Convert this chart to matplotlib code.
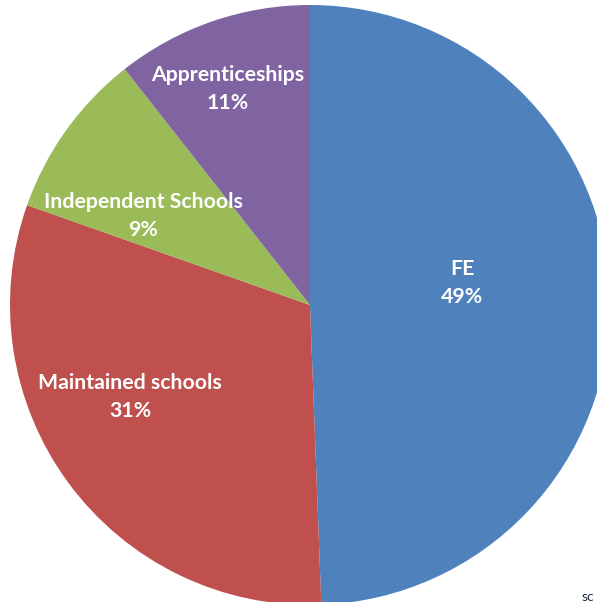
import matplotlib
matplotlib.use('Agg')
from matplotlib import pyplot as plt

# Data

sectors = ['FE', 'Maintained schools', 'Independent Schools', 'Apprenticeships']
shares = [49.4, 31.0, 9.0, 10.6]
colours = ['#4F81BD', '#C0504D', '#9BBB59', '#8064A2']

# label centres in pixels (x from left, y from top) of the reference picture

label_pos = [(462, 283), (130, 397), (143, 216), (228, 89)]

W, H = 597, 602
cx, cy = 310, 305   # pie centre in pixels

fig = plt.figure(figsize = (W/100, H/100), dpi = 100)
ax = fig.add_axes([0, 0, 1, 1])

ax.pie(shares, colors = colours, startangle = 90, counterclock = False,
       radius = 300, center = (0, 0), wedgeprops = dict(linewidth = 0))

for i in range(len(sectors)):
    px, py = label_pos[i]
    ax.text(px - cx, cy - py, sectors[i] + '\n' + '%.0f%%' % shares[i],
            ha = 'center', va = 'center', color = 'white', fontsize = 15.3,
            fontweight = 'bold', family = 'Lato', linespacing = 1.45)

ax.text(582 - cx, cy - 597, 'sc', ha = 'left', va = 'center', fontsize = 10,
        color = '#1f2a44', family = 'Lato')

ax.set_xlim(-cx, W - cx)
ax.set_ylim(cy - H, cy)
ax.set_aspect('equal')
ax.axis('off')

plt.savefig('out.png', dpi = 100)
